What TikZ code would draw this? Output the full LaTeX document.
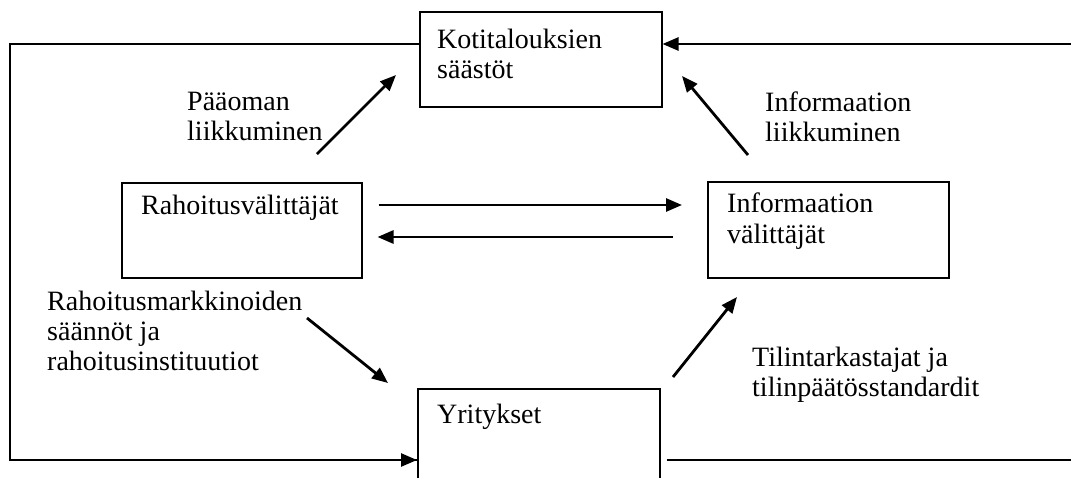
\documentclass[tikz,border=0pt]{standalone}
\usepackage{fontspec}
\setmainfont{Liberation Serif}
\usetikzlibrary{arrows.meta}
\tikzset{
  box/.style={draw, line width=1.5pt, inner sep=0pt, anchor=north west},
  txt/.style={anchor=base west, inner sep=0pt, font=\fontsize{28}{30}\selectfont},
  tip/.style={-{Triangle[length=16pt,width=13pt]}},
  arr/.style={line width=2.8pt, tip},
  loop/.style={line width=2.5pt},
}
\begin{document}
\begin{tikzpicture}[x=1pt,y=-1pt]
\clip (0,0) rectangle (1071,477);
\fill[white] (0,0) rectangle (1071,477);
% boxes
\node[box, minimum width=242pt, minimum height=95pt] (kot) at (419,11) {};
\node[box, minimum width=240pt, minimum height=95pt] (rah) at (121,182) {};
\node[box, minimum width=241pt, minimum height=96pt] (inf) at (707,181) {};
\node[box, minimum width=242pt, minimum height=120pt] (yri) at (417,388) {};
% box texts
\node[txt] (tkot1) at (437,48) {Kotitalouksien};
\node[txt] (tkot2) at (437,78) {säästöt};
\node[txt] (trah) at (141,214) {Rahoitusvälittäjät};
\node[txt] (tinf1) at (727,212) {Informaation};
\node[txt] (tinf2) at (727,243) {välittäjät};
\node[txt] (tyri) at (437,423) {Yritykset};
% labels
\node[txt] (lp1) at (187,110) {Pääoman};
\node[txt] (lp2) at (187,140) {liikkuminen};
\node[txt] (li1) at (765,111) {Informaation};
\node[txt] (li2) at (765,141) {liikkuminen};
\node[txt] (lr1) at (47,310) {Rahoitusmarkkinoiden};
\node[txt] (lr2) at (47,340) {säännöt ja};
\node[txt] (lr3) at (47,370) {rahoitusinstituutiot};
\node[txt] (lt1) at (752,366) {Tilintarkastajat ja};
\node[txt] (lt2) at (752,396) {tilinpäätösstandardit};
% loop coordinates
\coordinate (ltop) at (10,44);
\coordinate (lbot) at (10,460);
\coordinate (rtop) at (1071,44);
\coordinate (rbot) at (1071,460);
\draw[loop, line join=miter] (kot.west |- ltop) -- (ltop) -- (lbot) -- (yri.west |- lbot);
\draw[loop, tip] (lbot) -- (yri.west |- lbot);
\draw[loop, tip] (rtop) -- (kot.east |- rtop);
\draw[loop, shorten <=6pt] (yri.east |- rbot) -- (rbot);
% horizontal arrows
\coordinate (h1) at (0,205);
\coordinate (h2) at (0,237);
\draw[arr, shorten <=16pt, shorten >=25pt] (rah.east |- h1) -- (inf.west |- h1);
\draw[arr, shorten <=34pt, shorten >=15pt] (inf.west |- h2) -- (rah.east |- h2);
% diagonal arrows
\coordinate (d1s) at (317,154);
\coordinate (d1e) at (396,75);
\coordinate (d2s) at (748,155);
\coordinate (d2e) at (682,76);
\coordinate (d3s) at (307,318);
\coordinate (d3e) at (388,383);
\coordinate (d4s) at (673,377);
\coordinate (d4e) at (737,297);
\draw[arr] (d1s) -- (d1e);
\draw[arr] (d2s) -- (d2e);
\draw[arr] (d3s) -- (d3e);
\draw[arr] (d4s) -- (d4e);
\end{tikzpicture}
\end{document}
